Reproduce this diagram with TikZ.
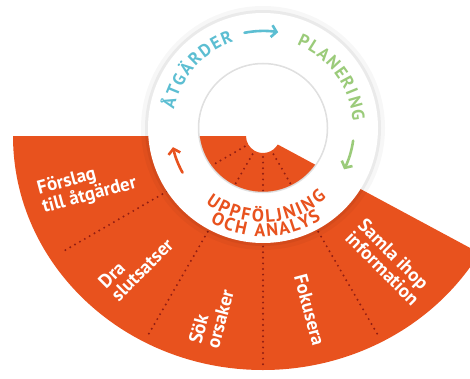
\documentclass[tikz,border=0pt]{standalone}
\usepackage{fontspec}
\setmainfont{PT Sans}
\usetikzlibrary{calc, arrows.meta}
\definecolor{fanorange}{RGB}{232,82,30}
\definecolor{dotred}{RGB}{145,30,18}
\definecolor{ringblue}{RGB}{92,190,210}
\definecolor{ringgreen}{RGB}{155,203,122}

\begin{document}
\begin{tikzpicture}[x=1pt, y=1pt,
    fantext/.style={text=white, font=\bfseries\fontsize{19}{18}\selectfont, align=left, inner sep=0pt},
    ringtop/.style={font=\bfseries\fontsize{17.5}{17.5}\selectfont, inner sep=0pt, anchor=base},
    ringbottom/.style={text=fanorange, font=\bfseries\fontsize{18}{18}\selectfont, inner sep=0pt, anchor=base},
    ringarrow/.style={line width=2.6pt, line cap=round, -{Straight Barb[length=5pt, width=12pt, line width=2.6pt]}},
    dotline/.style={draw=dotred, line width=2.2pt, line cap=round, dash pattern=on 0pt off 5.6pt}]
    \clip (0,0) rectangle (470,378);
    \coordinate (ringc) at (263,250);
    \coordinate (fanc) at (263,242);

    % orange fan
    \fill[fanorange] ($(fanc)+(180:17)$) -- ($(fanc)+(180:250)$)
        arc[start angle=180, end angle=330, x radius=250, y radius=234]
        -- ($(fanc)+(330:17)$) arc[start angle=330, end angle=180, radius=17] -- cycle;
    \draw[dotline] ($(fanc)+(210:21)$) -- ($(fanc)+(210:229)$);
    \draw[dotline] ($(fanc)+(240:21)$) -- ($(fanc)+(240:231)$);
    \draw[dotline] ($(fanc)+(270:21)$) -- ($(fanc)+(270:229)$);
    \draw[dotline] ($(fanc)+(300:21)$) -- ($(fanc)+(300:229)$);

    \node[fantext, rotate=15] (forslag) at ($(fanc)+(196:183)$) {Förslag\\till åtgärder};
    \node[fantext, rotate=45] (dra) at ($(fanc)+(225:180)$) {Dra\\slutsatser};
    \node[fantext, rotate=75] (sok) at ($(fanc)+(254:188)$) {Sök\\orsaker};
    \node[fantext, rotate=-75] (fokusera) at ($(fanc)+(285:180)$) {Fokusera};
    \node[fantext, rotate=-45] (samla) at ($(fanc)+(315:178)$) {Samla ihop\\information};

    % white ring
    \fill[black, opacity=0.03, even odd rule] (ringc) circle (122) (ringc) circle (64);
    \fill[black, opacity=0.05, even odd rule] (ringc) circle (118) (ringc) circle (64);
    \fill[white, even odd rule] (ringc) circle (115) (ringc) circle (64);
    \draw[black!20, line width=1.5pt, opacity=0.6] (ringc) circle (64.5);

    % ring labels, letter by letter
    \foreach \ch/\ang [count=\i] in {Å/165, T/157.6, G/150.1, Ä/142.3, R/134.6, D/126.8, E/119.3, R/112.1}
        \node[ringtop, text=ringblue, rotate=\ang-90] (atg\i) at ($(ringc)+(\ang:90.9)$) {\ch};
    \foreach \ch/\ang [count=\i] in {P/64.8, L/57.8, A/50.7, N/42.8, E/35.4, R/28.2, I/22.1, N/15.6, G/7.7}
        \node[ringtop, text=ringgreen, rotate=\ang-90] (plan\i) at ($(ringc)+(\ang:89.9)$) {\ch};
    \foreach \ch/\ang [count=\i] in {U/236, P/244, P/251.6, F/258.9, Ö/266.8, L/274.6, J/280.5, N/287.4, I/294, N/300.6, G/309}
        \node[ringbottom, rotate=\ang+90] (upp\i) at ($(ringc)+(\ang:94.3)$) {\ch};
    \foreach \ch/\ang [count=\i] in {O/244, C/250.8, H/257.6, A/268.3, N/275.2, A/282, L/288.1, Y/294, S/300}
        \node[ringbottom, rotate=\ang+90] (och\i) at ($(ringc)+(\ang:108.3)$) {\ch};

    \draw[ringarrow, ringblue] ($(ringc)+(101:97)$) arc[start angle=101, end angle=81, radius=97];
    \draw[ringarrow, ringgreen] ($(ringc)+(-8:91)$) arc[start angle=-8, end angle=-27, radius=91];
    \draw[ringarrow, fanorange] ($(ringc)+(209:92)$) arc[start angle=209, end angle=192, radius=92];
\end{tikzpicture}
\end{document}
